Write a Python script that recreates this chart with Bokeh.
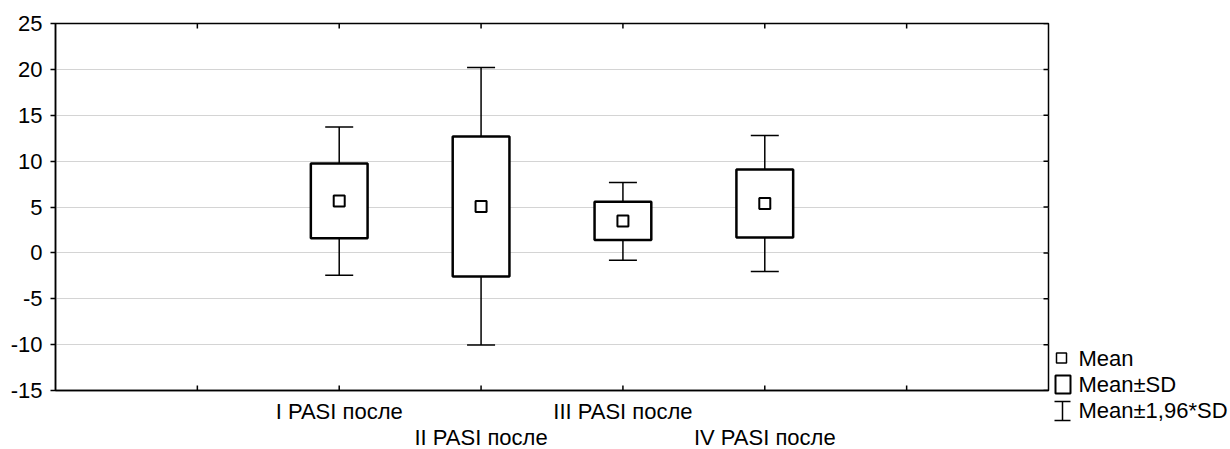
from bokeh.plotting import figure
from bokeh.models import Range1d, FixedTicker, LinearAxis, Whisker, TeeHead, ColumnDataSource
from bokeh.embed import file_html
from bokeh.resources import INLINE
from bokeh.core.properties import value

# ---- data ----
categories = ["I PASI после", "II PASI после", "III PASI после", "IV PASI после"]
means = [5.65, 5.05, 3.47, 5.38]
sd_low = [1.60, -2.57, 1.39, 1.68]
sd_high = [9.75, 12.69, 5.57, 9.09]
ci_low = [-2.45, -10.05, -0.80, -2.03]
ci_high = [13.72, 20.20, 7.67, 12.78]
y_ticks = [-15, -10, -5, 0, 5, 10, 15, 20, 25]
x_ticks = [1, 2, 3, 4, 5, 6]
legend_labels = ["Mean", "Mean±SD", "Mean±1,96*SD"]

FONT = "Liberation Sans"
FS = "22px"

xs = [i + 2 for i in range(len(categories))]
src = ColumnDataSource(dict(x=xs, mean=means, sdl=sd_low, sdh=sd_high, cil=ci_low, cih=ci_high))

p = figure(frame_width=993, frame_height=367, x_range=Range1d(0, 7), y_range=Range1d(-15, 25),
           output_backend="svg", toolbar_location=None,
           x_axis_location=None, y_axis_location=None,
           min_border_left=55, min_border_top=23, min_border_right=182, min_border_bottom=0)
p.outline_line_color = "black"
p.outline_line_width = 1.5
p.background_fill_color = "white"
p.border_fill_color = "white"

# left axis with labels (plain hyphen minus as in the original)
yax = LinearAxis(ticker=FixedTicker(ticks=y_ticks), major_tick_in=0, major_tick_out=5,
                 minor_tick_line_color=None, axis_line_color="black", axis_line_width=1.5,
                 major_tick_line_color="black", major_tick_line_width=1.5,
                 major_label_text_font=FONT, major_label_text_font_size=FS,
                 major_label_text_color="black", major_label_standoff=8,
                 major_label_overrides={t: str(t) for t in y_ticks})
p.add_layout(yax, "left")

# bottom: two staggered rows of category labels
row1 = {x: c for i, (x, c) in enumerate(zip(xs, categories)) if i % 2 == 0}
row2 = {x: c for i, (x, c) in enumerate(zip(xs, categories)) if i % 2 == 1}
xax1 = LinearAxis(ticker=FixedTicker(ticks=list(row1.keys())), major_tick_in=0, major_tick_out=0,
                  minor_tick_line_color=None, axis_line_color="black", axis_line_width=1.5,
                  major_tick_line_color=None,
                  major_label_text_font=FONT, major_label_text_font_size=FS,
                  major_label_text_color="black", major_label_standoff=8,
                  major_label_overrides=row1)
p.add_layout(xax1, "below")
xax2 = LinearAxis(ticker=FixedTicker(ticks=list(row2.keys())), major_tick_in=0, major_tick_out=0,
                  minor_tick_line_color=None, axis_line_color=None,
                  major_tick_line_color=None,
                  major_label_text_font=FONT, major_label_text_font_size=FS,
                  major_label_text_color="black", major_label_standoff=-2,
                  major_label_overrides=row2)
p.add_layout(xax2, "below")

# grid
p.xgrid.visible = False
p.ygrid.ticker = FixedTicker(ticks=y_ticks)
p.ygrid.grid_line_color = "#a8a8a8"
p.ygrid.grid_line_dash = "1 1"
p.ygrid.grid_line_width = 1

# inward ticks on right, top and bottom (dash markers clipped by the frame)
x0, x1 = p.x_range.start, p.x_range.end
y0, y1 = p.y_range.start, p.y_range.end
p.scatter(x=[x1] * len(y_ticks), y=y_ticks, marker="dash", size=10,
          line_color="black", line_width=1.5)
p.scatter(x=x_ticks + x_ticks, y=[y1] * len(x_ticks) + [y0] * len(x_ticks), marker="dash",
          angle=90, angle_units="deg", size=10, line_color="black", line_width=1.5)

wh = Whisker(base="x", lower="cil", upper="cih", source=src, level="underlay",
             line_color="black", line_width=1.5,
             upper_head=TeeHead(size=28, line_color="black", line_width=1.5),
             lower_head=TeeHead(size=28, line_color="black", line_width=1.5))
p.add_layout(wh)

p.vbar(x="x", width=0.4, top="sdh", bottom="sdl", source=src,
       fill_color="white", line_color="black", line_width=2.5)
p.scatter(x="x", y="mean", source=src, marker="square", size=11,
          fill_color="white", line_color="black", line_width=2)

# ---- legend: a small separate figure laid over the right margin ----
leg = figure(width=182, height=449, x_range=Range1d(0, 182), y_range=Range1d(449, 0),
             output_backend="svg", toolbar_location=None,
             x_axis_location=None, y_axis_location=None, min_border=0,
             styles={"position": "absolute", "left": "1048px", "top": "0px"})
leg.grid.visible = False
leg.outline_line_color = None
leg.background_fill_alpha = 0
leg.border_fill_alpha = 0

leg.scatter(x=[13], y=[357.5], marker="square", size=10, fill_color="white",
            line_color="black", line_width=1.5)
leg.quad(left=[7], right=[22], top=[375], bottom=[393], fill_color="white",
         line_color="black", line_width=2)
leg.segment(x0=[14, 6, 6], y0=[401, 401, 420], x1=[14, 22, 22], y1=[420, 401, 420],
            line_color="black", line_width=1.5)
leg.text(x=[30, 30, 30], y=[357.5, 383.5, 409.5], text=legend_labels,
         text_font=value(FONT), text_font_size=FS, text_color="black",
         text_baseline="middle", text_align="left")

open("out.html", "w").write(file_html([p, leg], INLINE))
